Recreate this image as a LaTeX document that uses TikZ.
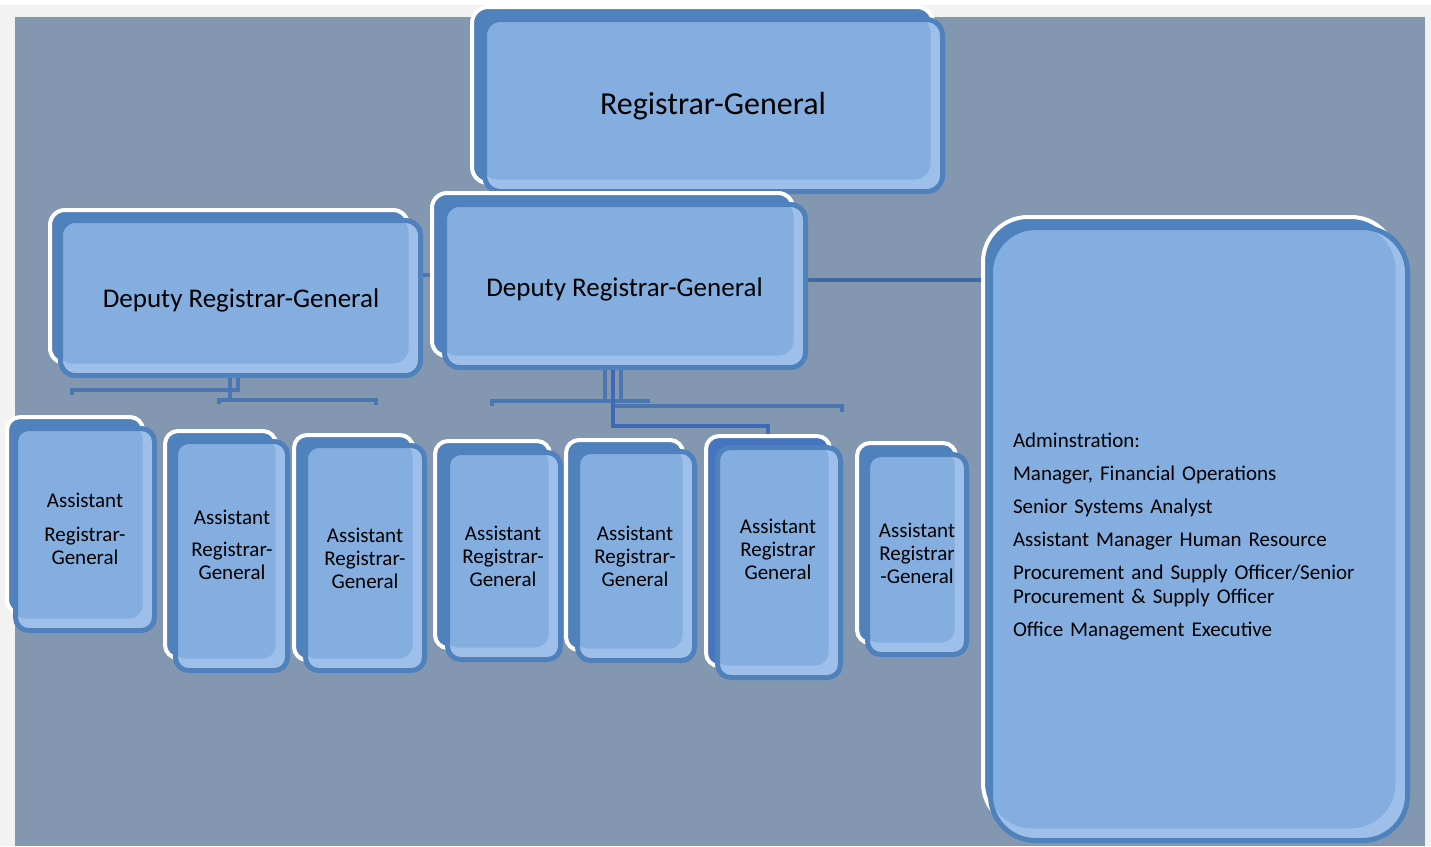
\documentclass[tikz,border=0pt]{standalone}
\usepackage{fontspec}
\setmainfont{Carlito}
\usetikzlibrary{calc}
\definecolor{slate}{HTML}{8497B0}
\definecolor{marginc}{HTML}{F2F2F2}
\definecolor{dkblue}{HTML}{4F81BD}
\definecolor{dkbluetwo}{HTML}{4674C1}
\definecolor{ltblue}{HTML}{85AEE0}
\definecolor{hlblue}{HTML}{9DBFE9}
\definecolor{conn}{HTML}{4A76B2}
\definecolor{conntwo}{HTML}{3F69B6}
\definecolor{connthree}{HTML}{42689F}
\pgfdeclarelayer{bgl}
\pgfdeclarelayer{cnl}
\pgfsetlayers{bgl,cnl,main}
\tikzset{
  backbox/.style={draw=white, line width=4pt, fill=dkblue, rounded corners=#1},
  backbox/.default=13pt,
  frontbox/.style={draw=dkblue, line width=5pt, fill=hlblue, rounded corners=#1,
    inner sep=0pt, outer sep=0pt,
    path picture={\fill[ltblue, rounded corners=#1]
      ([xshift=-3pt,yshift=3pt]path picture bounding box.north west) rectangle
      ([xshift=-12pt,yshift=12pt]path picture bounding box.south east);}},
  frontbox/.default=13pt,
  asttext/.style={align=center, font=\fontsize{21}{23}\selectfont, inner sep=0pt},
  linksty/.style={draw=conn, line width=4pt},
}
\begin{document}
\begin{tikzpicture}[x=1pt,y=-1pt]
\begin{pgfonlayer}{bgl}
\fill[white] (0,0) rectangle (1431,846);
\fill[marginc] (0,5) rectangle (1431,846);
\fill[slate] (15,17) rectangle (1425,846);
\end{pgfonlayer}
\useasboundingbox (0,0) rectangle (1431,846);

% Registrar-General
\draw[backbox=16pt] (472,7) rectangle (933,183);
\node[frontbox=16pt, minimum width=458pt, minimum height=172pt] (rg) at (713.5,105.5) {};
\node[font=\fontsize{32}{36}\selectfont, inner sep=0pt] (rgt) at (713,106) {Registrar-General};

% Deputy left
\draw[backbox=15pt] (50,210) rectangle (408,363);
\node[frontbox=15pt, minimum width=360pt, minimum height=155pt] (dl) at (240.5,298) {};
\node[font=\fontsize{27}{30}\selectfont, inner sep=0pt] (dlt) at (241,300) {Deputy Registrar-General};

% Deputy centre
\draw[backbox=15pt] (432,193) rectangle (793,356);
\node[frontbox=15pt, minimum width=361pt, minimum height=163pt] (dc) at (625,286) {};
\node[font=\fontsize{27}{30}\selectfont, inner sep=0pt] (dct) at (624.5,289) {Deputy Registrar-General};

% Assistants
\draw[backbox] (7,417) rectangle (143,613);
\node[frontbox, minimum width=139pt, minimum height=202pt] (a1) at (85,529.5) {};
\node[asttext] (t1) at (85,529) {Assistant\\[11pt]Registrar-\\General};

\draw[backbox] (165,431) rectangle (276,658);
\node[frontbox, minimum width=112pt, minimum height=229pt] (a2) at (231.5,556) {};
\node[asttext] (t2) at (232,545) {Assistant\\[9pt]Registrar-\\General};

\draw[backbox] (294,435) rectangle (413,660);
\node[frontbox, minimum width=119pt, minimum height=225pt] (a3) at (365,558) {};
\node[asttext] (t3) at (365,558) {Assistant\\Registrar-\\General};

\draw[backbox] (435,441) rectangle (550,648);
\node[frontbox, minimum width=113pt, minimum height=207pt] (a4) at (504,556) {};
\node[asttext] (t4) at (503,556) {Assistant\\Registrar-\\General};

\draw[backbox] (566,440) rectangle (683,650);
\node[frontbox, minimum width=117pt, minimum height=209pt] (a5) at (636,556) {};
\node[asttext] (t5) at (635,556.5) {Assistant\\Registrar-\\General};

\draw[backbox, fill=dkbluetwo] (706,436) rectangle (830,666);
\node[frontbox, minimum width=123pt, minimum height=230pt] (a6) at (779,562.5) {};
\node[asttext] (t6) at (778,549.5) {Assistant\\Registrar\\General};

\draw[backbox] (857,443) rectangle (956,643);
\node[frontbox, minimum width=99pt, minimum height=200pt] (a7) at (917,554.5) {};
\node[asttext] (t7) at (917,553) {Assistant\\Registrar\\-General};

% Administration
\draw[backbox=45pt] (983,217) rectangle (1396,828);
\node[frontbox=45pt, minimum width=417pt, minimum height=613pt] (admin) at (1199,534) {};
\node[align=left, text width=372pt, inner sep=0pt, font=\fontsize{21}{24}\selectfont]
  (admintext) at (1199,537) {Adminstration:\\[9pt]
  Manager, Financial Operations\\[9pt]
  Senior Systems Analyst\\[9pt]
  Assistant Manager Human Resource\\[9pt]
  Procurement and Supply Officer/Senior\\
  Procurement \& Supply Officer\\[9pt]
  Office Management Executive};

% Connectors
\begin{pgfonlayer}{cnl}
\draw[linksty] ($(dl.east)+(0,-23)$) -- ($(dc.west |- dl.east)+(0,-23)$);
\draw[draw=connthree, line width=4.5pt] ($(dc.east)+(0,-6)$) -- ($(admin.west |- dc.east)+(0,-6)$);
% under left deputy
\draw[linksty] ($(dl.south)+(-168.5,19.5)$) -- ($(dl.south)+(-168.5,14.5)$)
  -- ($(dl.south)+(-2.5,14.5)$) -- ($(dl.south)+(-2.5,0)$);
\draw[linksty] ($(dl.south)+(-21.5,28.5)$) -- ($(dl.south)+(-21.5,24.5)$)
  -- ($(dl.south)+(135.5,24.5)$) -- ($(dl.south)+(135.5,29.5)$);
\draw[linksty] ($(dl.south)+(-10.5,0)$) -- ($(dl.south)+(-10.5,24.5)$);
% under centre deputy
\draw[linksty] ($(dc.south)+(-20.5,0)$) -- ($(dc.south)+(-20.5,33.5)$);
\draw[linksty] ($(dc.south)+(-4.5,0)$) -- ($(dc.south)+(-4.5,33.5)$);
\draw[linksty] ($(dc.south)+(-133,38.5)$) -- ($(dc.south)+(-133,33.5)$)
  -- ($(dc.south)+(25,33.5)$);
\draw[linksty] ($(dc.south)+(-13,38.5)$) -- ($(dc.south)+(217,38.5)$)
  -- ($(dc.south)+(217,44.5)$);
\draw[draw=conntwo, line width=4.5pt] ($(dc.south)+(-12,0)$) -- ($(dc.south)+(-12,58.5)$)
  -- ($(dc.south)+(143,58.5)$) -- ($(a6.north -| dc.south)+(143,-10)$);
\end{pgfonlayer}
\end{tikzpicture}
\end{document}
